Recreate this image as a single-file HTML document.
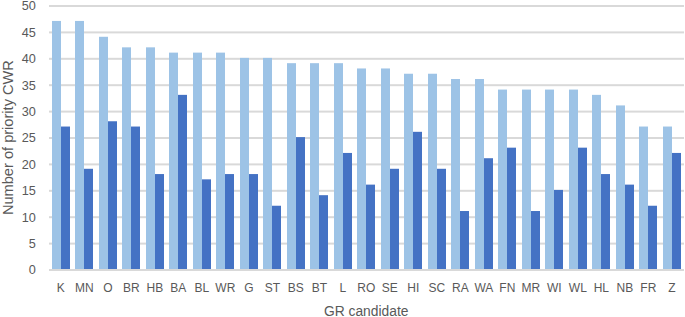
<!DOCTYPE html>
<html><head><meta charset="utf-8"><style>
html,body{margin:0;padding:0;background:#fff;}
svg{display:block;}
text{font-family:"Liberation Sans",sans-serif;fill:#595959;}
</style></head><body>
<svg width="685" height="317" viewBox="0 0 685 317">
<rect width="685" height="317" fill="#fff"/>
<rect x="49" y="242.60" width="635" height="2" fill="#D9D9D9"/>
<rect x="49" y="216.20" width="635" height="2" fill="#D9D9D9"/>
<rect x="49" y="189.80" width="635" height="2" fill="#D9D9D9"/>
<rect x="49" y="163.40" width="635" height="2" fill="#D9D9D9"/>
<rect x="49" y="137.00" width="635" height="2" fill="#D9D9D9"/>
<rect x="49" y="110.60" width="635" height="2" fill="#D9D9D9"/>
<rect x="49" y="84.20" width="635" height="2" fill="#D9D9D9"/>
<rect x="49" y="57.80" width="635" height="2" fill="#D9D9D9"/>
<rect x="49" y="31.40" width="635" height="2" fill="#D9D9D9"/>
<rect x="49" y="5.00" width="635" height="2" fill="#D9D9D9"/>
<rect x="52.00" y="20.94" width="9" height="248.56" fill="#9DC3E6"/>
<rect x="61.00" y="126.54" width="9" height="142.96" fill="#4472C4"/>
<rect x="75.00" y="20.94" width="9" height="248.56" fill="#9DC3E6"/>
<rect x="84.00" y="168.78" width="9" height="100.72" fill="#4472C4"/>
<rect x="99.00" y="36.78" width="9" height="232.72" fill="#9DC3E6"/>
<rect x="108.00" y="121.26" width="9" height="148.24" fill="#4472C4"/>
<rect x="122.00" y="47.34" width="9" height="222.16" fill="#9DC3E6"/>
<rect x="131.00" y="126.54" width="9" height="142.96" fill="#4472C4"/>
<rect x="146.00" y="47.34" width="9" height="222.16" fill="#9DC3E6"/>
<rect x="155.00" y="174.06" width="9" height="95.44" fill="#4472C4"/>
<rect x="169.00" y="52.62" width="9" height="216.88" fill="#9DC3E6"/>
<rect x="178.00" y="94.86" width="9" height="174.64" fill="#4472C4"/>
<rect x="193.00" y="52.62" width="9" height="216.88" fill="#9DC3E6"/>
<rect x="202.00" y="179.34" width="9" height="90.16" fill="#4472C4"/>
<rect x="216.00" y="52.62" width="9" height="216.88" fill="#9DC3E6"/>
<rect x="225.00" y="174.06" width="9" height="95.44" fill="#4472C4"/>
<rect x="240.00" y="57.90" width="9" height="211.60" fill="#9DC3E6"/>
<rect x="249.00" y="174.06" width="9" height="95.44" fill="#4472C4"/>
<rect x="263.00" y="57.90" width="9" height="211.60" fill="#9DC3E6"/>
<rect x="272.00" y="205.74" width="9" height="63.76" fill="#4472C4"/>
<rect x="287.00" y="63.18" width="9" height="206.32" fill="#9DC3E6"/>
<rect x="296.00" y="137.10" width="9" height="132.40" fill="#4472C4"/>
<rect x="310.00" y="63.18" width="9" height="206.32" fill="#9DC3E6"/>
<rect x="319.00" y="195.18" width="9" height="74.32" fill="#4472C4"/>
<rect x="334.00" y="63.18" width="9" height="206.32" fill="#9DC3E6"/>
<rect x="343.00" y="152.94" width="9" height="116.56" fill="#4472C4"/>
<rect x="357.00" y="68.46" width="9" height="201.04" fill="#9DC3E6"/>
<rect x="366.00" y="184.62" width="9" height="84.88" fill="#4472C4"/>
<rect x="381.00" y="68.46" width="9" height="201.04" fill="#9DC3E6"/>
<rect x="390.00" y="168.78" width="9" height="100.72" fill="#4472C4"/>
<rect x="404.00" y="73.74" width="9" height="195.76" fill="#9DC3E6"/>
<rect x="413.00" y="131.82" width="9" height="137.68" fill="#4472C4"/>
<rect x="428.00" y="73.74" width="9" height="195.76" fill="#9DC3E6"/>
<rect x="437.00" y="168.78" width="9" height="100.72" fill="#4472C4"/>
<rect x="451.00" y="79.02" width="9" height="190.48" fill="#9DC3E6"/>
<rect x="460.00" y="211.02" width="9" height="58.48" fill="#4472C4"/>
<rect x="475.00" y="79.02" width="9" height="190.48" fill="#9DC3E6"/>
<rect x="484.00" y="158.22" width="9" height="111.28" fill="#4472C4"/>
<rect x="498.00" y="89.58" width="9" height="179.92" fill="#9DC3E6"/>
<rect x="507.00" y="147.66" width="9" height="121.84" fill="#4472C4"/>
<rect x="522.00" y="89.58" width="9" height="179.92" fill="#9DC3E6"/>
<rect x="531.00" y="211.02" width="9" height="58.48" fill="#4472C4"/>
<rect x="545.00" y="89.58" width="9" height="179.92" fill="#9DC3E6"/>
<rect x="554.00" y="189.90" width="9" height="79.60" fill="#4472C4"/>
<rect x="569.00" y="89.58" width="9" height="179.92" fill="#9DC3E6"/>
<rect x="578.00" y="147.66" width="9" height="121.84" fill="#4472C4"/>
<rect x="592.00" y="94.86" width="9" height="174.64" fill="#9DC3E6"/>
<rect x="601.00" y="174.06" width="9" height="95.44" fill="#4472C4"/>
<rect x="616.00" y="105.42" width="9" height="164.08" fill="#9DC3E6"/>
<rect x="625.00" y="184.62" width="9" height="84.88" fill="#4472C4"/>
<rect x="639.00" y="126.54" width="9" height="142.96" fill="#9DC3E6"/>
<rect x="648.00" y="205.74" width="9" height="63.76" fill="#4472C4"/>
<rect x="663.00" y="126.54" width="9" height="142.96" fill="#9DC3E6"/>
<rect x="672.00" y="152.94" width="9" height="116.56" fill="#4472C4"/>
<rect x="49" y="269" width="635" height="2" fill="#D9D9D9"/>
<text transform="translate(35.8,274.30) scale(1.06,1)" x="0" y="0" text-anchor="end" font-size="12">0</text>
<text transform="translate(35.8,247.90) scale(1.06,1)" x="0" y="0" text-anchor="end" font-size="12">5</text>
<text transform="translate(35.8,221.50) scale(1.06,1)" x="0" y="0" text-anchor="end" font-size="12">10</text>
<text transform="translate(35.8,195.10) scale(1.06,1)" x="0" y="0" text-anchor="end" font-size="12">15</text>
<text transform="translate(35.8,168.70) scale(1.06,1)" x="0" y="0" text-anchor="end" font-size="12">20</text>
<text transform="translate(35.8,142.30) scale(1.06,1)" x="0" y="0" text-anchor="end" font-size="12">25</text>
<text transform="translate(35.8,115.90) scale(1.06,1)" x="0" y="0" text-anchor="end" font-size="12">30</text>
<text transform="translate(35.8,89.50) scale(1.06,1)" x="0" y="0" text-anchor="end" font-size="12">35</text>
<text transform="translate(35.8,63.10) scale(1.06,1)" x="0" y="0" text-anchor="end" font-size="12">40</text>
<text transform="translate(35.8,36.70) scale(1.06,1)" x="0" y="0" text-anchor="end" font-size="12">45</text>
<text transform="translate(35.8,10.30) scale(1.06,1)" x="0" y="0" text-anchor="end" font-size="12">50</text>
<text x="60.85" y="291.9" text-anchor="middle" font-size="12">K</text>
<text x="84.35" y="291.9" text-anchor="middle" font-size="12">MN</text>
<text x="107.85" y="291.9" text-anchor="middle" font-size="12">O</text>
<text x="131.35" y="291.9" text-anchor="middle" font-size="12">BR</text>
<text x="154.85" y="291.9" text-anchor="middle" font-size="12">HB</text>
<text x="178.35" y="291.9" text-anchor="middle" font-size="12">BA</text>
<text x="201.85" y="291.9" text-anchor="middle" font-size="12">BL</text>
<text x="225.35" y="291.9" text-anchor="middle" font-size="12">WR</text>
<text x="248.85" y="291.9" text-anchor="middle" font-size="12">G</text>
<text x="272.35" y="291.9" text-anchor="middle" font-size="12">ST</text>
<text x="295.85" y="291.9" text-anchor="middle" font-size="12">BS</text>
<text x="319.35" y="291.9" text-anchor="middle" font-size="12">BT</text>
<text x="342.85" y="291.9" text-anchor="middle" font-size="12">L</text>
<text x="366.35" y="291.9" text-anchor="middle" font-size="12">RO</text>
<text x="389.85" y="291.9" text-anchor="middle" font-size="12">SE</text>
<text x="413.35" y="291.9" text-anchor="middle" font-size="12">HI</text>
<text x="436.85" y="291.9" text-anchor="middle" font-size="12">SC</text>
<text x="460.35" y="291.9" text-anchor="middle" font-size="12">RA</text>
<text x="483.85" y="291.9" text-anchor="middle" font-size="12">WA</text>
<text x="507.35" y="291.9" text-anchor="middle" font-size="12">FN</text>
<text x="530.85" y="291.9" text-anchor="middle" font-size="12">MR</text>
<text x="554.35" y="291.9" text-anchor="middle" font-size="12">WI</text>
<text x="577.85" y="291.9" text-anchor="middle" font-size="12">WL</text>
<text x="601.35" y="291.9" text-anchor="middle" font-size="12">HL</text>
<text x="624.85" y="291.9" text-anchor="middle" font-size="12">NB</text>
<text x="648.35" y="291.9" text-anchor="middle" font-size="12">FR</text>
<text x="671.85" y="291.9" text-anchor="middle" font-size="12">Z</text>
<text x="366.2" y="315.6" text-anchor="middle" font-size="14" textLength="84.5" lengthAdjust="spacingAndGlyphs">GR candidate</text>
<text transform="translate(13,137.6) rotate(-90)" x="0" y="0" text-anchor="middle" font-size="14" textLength="155" lengthAdjust="spacingAndGlyphs">Number of priority CWR</text>
</svg>
</body></html>
